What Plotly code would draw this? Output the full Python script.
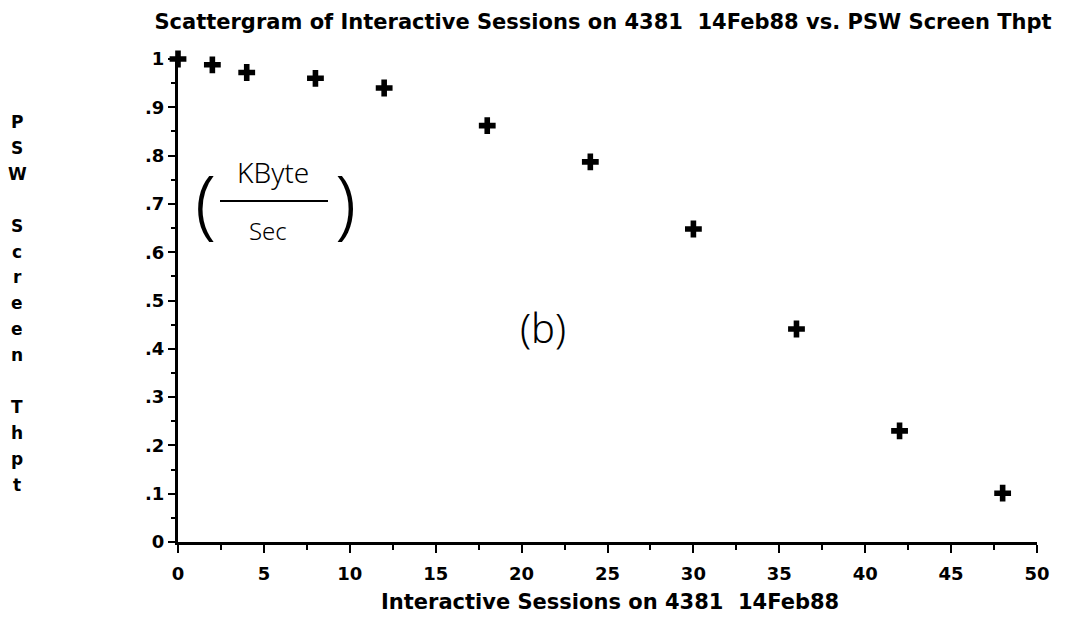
import plotly.graph_objects as go

# ---- data ----
sessions = [0, 2, 4, 8, 12, 18, 24, 30, 36, 42, 48]
thpt = [1.0, 0.988, 0.972, 0.960, 0.940, 0.862, 0.787, 0.648, 0.441, 0.230, 0.101]

x_tickvals = [0, 5, 10, 15, 20, 25, 30, 35, 40, 45, 50]
x_ticktext = ["0", "5", "10", "15", "20", "25", "30", "35", "40", "45", "50"]
y_tickvals = [0, 0.1, 0.2, 0.3, 0.4, 0.5, 0.6, 0.7, 0.8, 0.9, 1.0]
y_ticktext = ["0", ".1", ".2", ".3", ".4", ".5", ".6", ".7", ".8", ".9", "1"]

title_text = "Scattergram of Interactive Sessions on 4381&nbsp; 14Feb88 vs. PSW Screen Thpt"
x_title = "Interactive Sessions on 4381&nbsp; 14Feb88"
y_title_letters = list("PSW Screen Thpt")

FONT = "DejaVu Sans"
HAND = "Noto Sans"

fig = go.Figure()
fig.add_trace(go.Scatter(
    x=sessions, y=thpt, mode="markers",
    marker=dict(symbol="cross", size=14, color="black", line=dict(width=0)),
    cliponaxis=False, showlegend=False,
))

W, H = 1074, 617
L, R, T, B = 178, 37, 59, 75

fig.update_layout(
    width=W, height=H,
    margin=dict(l=L, r=R, t=T, b=B, pad=0),
    paper_bgcolor="white", plot_bgcolor="white",
    font=dict(family=FONT, color="black", size=17),
    title=dict(text=title_text, x=603 / W, xanchor="center", xref="container",
               y=1 - 22 / H, yanchor="middle", yref="container",
               font=dict(family=FONT, size=21, color="black", weight="bold")),
    showlegend=False,
)

fig.update_xaxes(
    range=[0, 50], tickmode="array", tickvals=x_tickvals, ticktext=x_ticktext,
    showgrid=False, zeroline=False, showline=True, linecolor="black", linewidth=3,
    ticks="outside", ticklen=8, tickwidth=2, tickcolor="black",
    ticklabelstandoff=5,
    minor=dict(dtick=2.5, ticks="outside", ticklen=5, tickwidth=2, tickcolor="black", showgrid=False),
    tickfont=dict(family=FONT, size=18, weight="bold"),
)
fig.update_yaxes(
    range=[0, 1], tickmode="array", tickvals=y_tickvals, ticktext=y_ticktext,
    showgrid=False, zeroline=False, showline=True, linecolor="black", linewidth=3,
    ticks="outside", ticklen=7, tickwidth=2, tickcolor="black",
    minor=dict(dtick=0.05, ticks="outside", ticklen=4, tickwidth=2, tickcolor="black", showgrid=False),
    tickfont=dict(family=FONT, size=18, weight="bold"),
)

pw, ph = W - L - R, H - T - B

def px_to_paper(px, py):
    return (px - L) / pw, (H - B - py) / ph

# x-axis title
ax, ay = px_to_paper(610, 602)
fig.add_annotation(text=x_title, x=ax, y=ay, xref="paper", yref="paper",
                   showarrow=False, xanchor="center", yanchor="middle",
                   font=dict(family=FONT, size=21, weight="bold"))

# y-axis title, stacked letters
step = 25.9
for i, ch in enumerate(y_title_letters):
    if ch == " ":
        continue
    lx, ly = px_to_paper(17, 122 + i * step)
    fig.add_annotation(text=ch, x=lx, y=ly, xref="paper", yref="paper",
                       showarrow=False, xanchor="center", yanchor="middle",
                       font=dict(family=FONT, size=17, weight="bold"))

# handwritten annotations
def hand(text, px, py, size):
    hx, hy = px_to_paper(px, py)
    fig.add_annotation(text=text, x=hx, y=hy, xref="paper", yref="paper",
                       showarrow=False, xanchor="center", yanchor="middle",
                       font=dict(family=HAND, size=size, color="black", weight=300))

hand("KByte", 273, 172, 28)
hand("Sec", 268, 230, 24)
hand("(", 205, 200, 76)
hand(")", 345, 200, 76)
hand("(b)", 543, 327, 40)
x0, y0 = px_to_paper(220, 201)
x1, y1 = px_to_paper(328, 201)
fig.add_shape(type="line", xref="paper", yref="paper", x0=x0, y0=y0, x1=x1, y1=y1,
              line=dict(color="black", width=2))

fig.write_html("out.html")
